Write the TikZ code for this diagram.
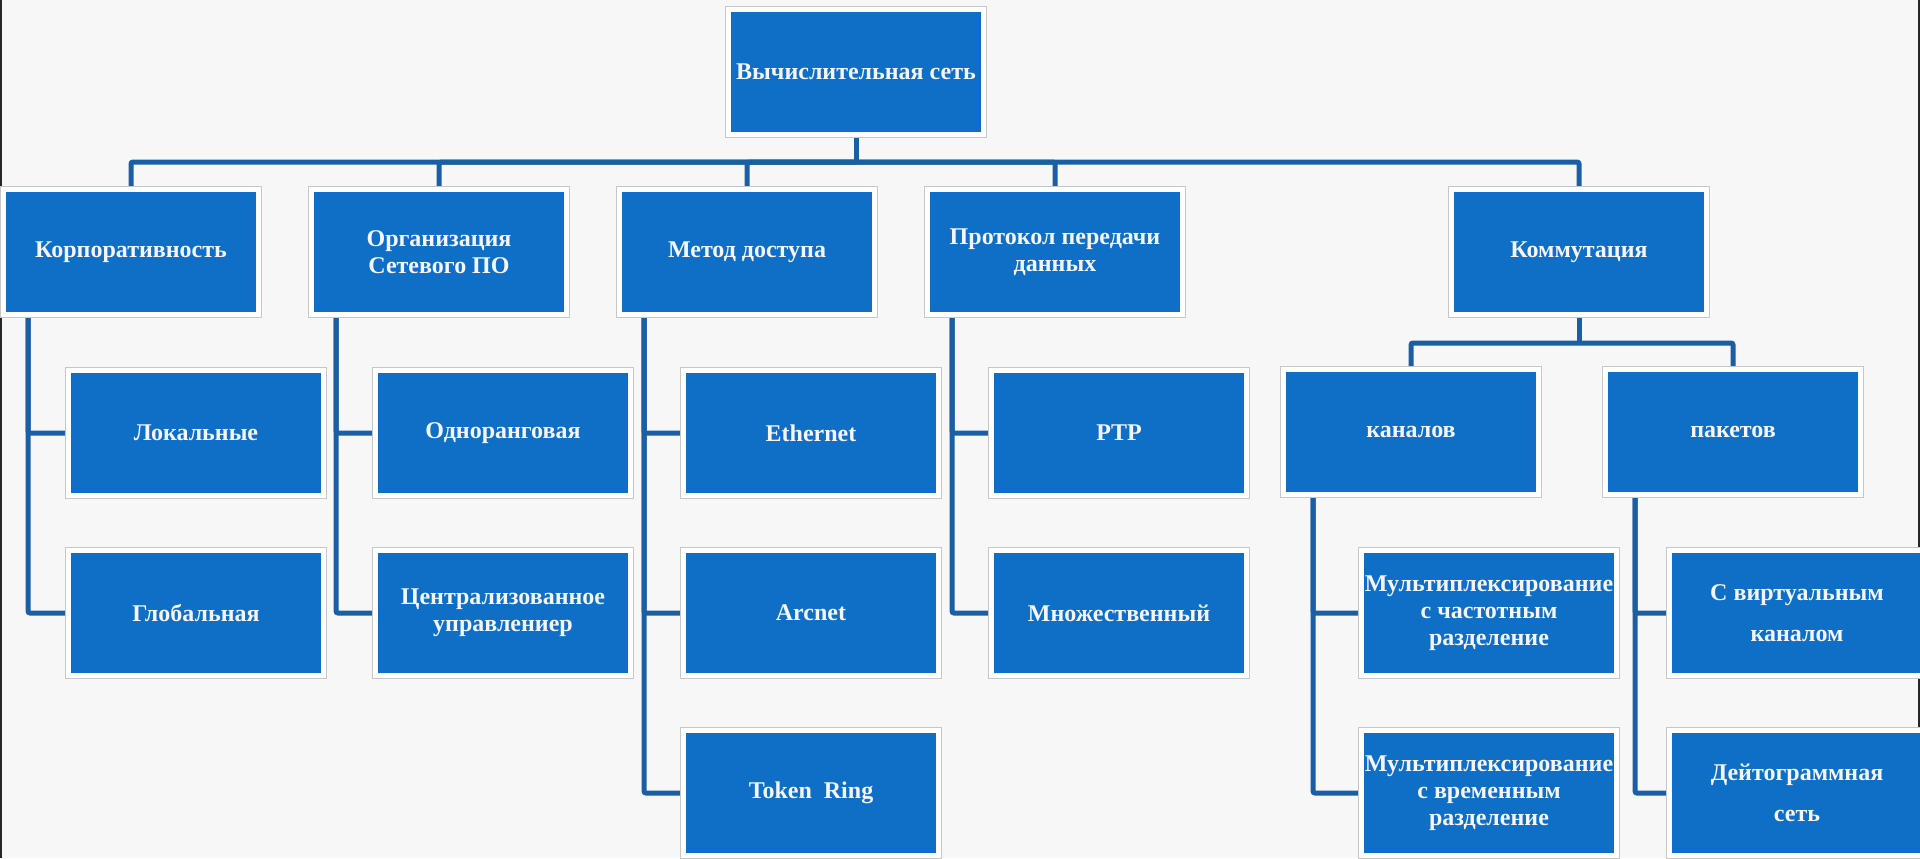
\documentclass[tikz,border=0pt]{standalone}
\usepackage{fontspec}
\setmainfont{Liberation Serif}
\usetikzlibrary{backgrounds}
\definecolor{boxblue}{HTML}{0F6EC6}
\definecolor{linkblue}{HTML}{1A5EA6}
\definecolor{paper}{HTML}{F7F7F7}
\begin{document}
\begin{tikzpicture}[x=0.5pt,y=-0.5pt,
    box/.style={fill=boxblue, draw=white, line width=2.5pt,
        preaction={draw=black!22, line width=3.2pt},
        minimum width=127.5pt, minimum height=62.5pt, inner sep=0pt,
        align=center, text=white!96!blue,
        font=\bfseries\fontsize{12}{13.5}\selectfont},
    link/.style={draw=linkblue, line width=2.5pt, rounded corners=1pt}]
        \useasboundingbox (0,0) rectangle (1920,858);
        \clip (0,0) rectangle (1920,858);
        \begin{pgfonlayer}{background}
            \fill[paper] (0,0) rectangle (1920,858);
            \draw[black!85, line width=1pt] (1,0) -- (1,858);
            \draw[black!85, line width=1pt] (1919,0) -- (1919,858);
        \end{pgfonlayer}

        % Wurzel
        \node[box] (net) at (856,72) {Вычислительная сеть};

        % erste Ebene
        \node[box] (corp) at (131,252) {Корпоративность};
        \node[box] (org) at (439,252) {Организация\\Сетевого ПО};
        \node[box] (acc) at (747,252) {Метод доступа};
        \node[box] (prot) at (1055,252) {Протокол передачи\\данных};
        \node[box] (comm) at (1579,252) {Коммутация};

        % zweite Ebene
        \node[box] (loc) at (196,433) {Локальные};
        \node[box] (glob) at (196,613) {Глобальная};
        \node[box] (peer) at (503,433) {Одноранговая};
        \node[box] (cent) at (503,613) {Централизованное\\управлениер};
        \node[box] (eth) at (811,433) {Ethernet};
        \node[box] (arc) at (811,613) {Arcnet};
        \node[box] (tok) at (811,793) {Token\ \ Ring};
        \node[box] (ptp) at (1119,433) {PTP};
        \node[box] (mult) at (1119,613) {Множественный};
        \node[box] (chan) at (1411,432) {каналов};
        \node[box] (pack) at (1733,432) {пакетов};

        % dritte Ebene
        \node[box] (fdm) at (1489,613) {Мультиплексирование\\с частотным\\разделение};
        \node[box] (tdm) at (1489,793) {Мультиплексирование\\с временным\\разделение};
        \node[box] (virt) at (1797,613) {С виртуальным\\[7pt]каналом};
        \node[box] (dgram) at (1797,793) {Дейтограммная\\[7pt]сеть};

        % Linien
        \coordinate (bar) at (856,162);
        \coordinate (split) at (1579,343);
        \begin{pgfonlayer}{background}
            \draw[link] (net.south) -- (bar);
            \foreach \n in {corp,org,acc,prot,comm}
                \draw[link] (bar) -| (\n.north);
            \draw[link] (comm.south) -- (split);
            \draw[link] (split) -| (chan.north);
            \draw[link] (split) -| (pack.north);
            \foreach \p/\c in {corp/loc,corp/glob,org/peer,org/cent,acc/eth,acc/arc,acc/tok,prot/ptp,prot/mult}
                \draw[link] ([xshift=-51.5pt]\p.south) |- (\c.west);
            \foreach \p/\c in {chan/fdm,chan/tdm,pack/virt,pack/dgram}
                \draw[link] ([xshift=-49pt]\p.south) |- (\c.west);
        \end{pgfonlayer}
    \end{tikzpicture}
\end{document}
